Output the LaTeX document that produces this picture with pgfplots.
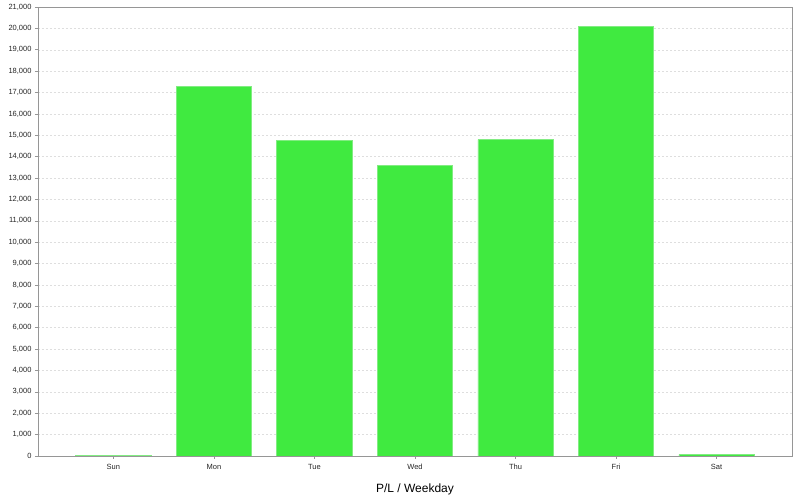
\documentclass[border=0pt]{standalone}
\usepackage{pgfplots}
\pgfplotsset{compat=1.18}
\usepackage{fontspec}
\setmainfont{Liberation Sans}
\definecolor{barfill}{RGB}{64,234,64}
\definecolor{baredge}{RGB}{130,236,130}
\definecolor{axgray}{RGB}{150,150,150}
\definecolor{gridgray}{RGB}{222,222,222}
\begin{document}
\begin{tikzpicture}[x=1pt,y=1pt]
\useasboundingbox (-38pt,-44pt) rectangle (762pt,456pt);
\begin{axis}[
  at={(0,0)}, anchor=south west,
  scale only axis,
  width=754pt, height=449pt,
  xmin=-0.75, xmax=6.75,
  ymin=0, ymax=21000,
  xtick={0,...,6},
  xticklabels={Sun,Mon,Tue,Wed,Thu,Fri,Sat},
  ytick={0,1000,...,21000},
  scaled y ticks=false,
  /pgf/number format/1000 sep={,},
  /pgf/number format/assume math mode=true,
  tick label style={font=\fontsize{7.5}{9}\selectfont, text=black!85},
  xticklabel style={yshift=-2pt},
  ymajorgrids,
  grid style={gridgray, dash pattern=on 2pt off 2pt, line width=0.5pt},
  axis line style={axgray, line width=0.8pt},
  tick style={axgray, line width=0.6pt},
  tick align=outside,
  major tick length=3pt,
  xtick pos=bottom, ytick pos=left,
  xlabel={P/L / Weekday},
  xlabel style={font=\fontsize{12}{14}\selectfont, yshift=-7pt},
  ybar, bar width=0.75, bar shift=0pt,
]
\addplot[fill=barfill, draw=baredge, line width=0.6pt] coordinates {
  (0,45) (1,17290) (2,14770) (3,13590) (4,14800) (5,20100) (6,60)
};
\end{axis}
\end{tikzpicture}
\end{document}
